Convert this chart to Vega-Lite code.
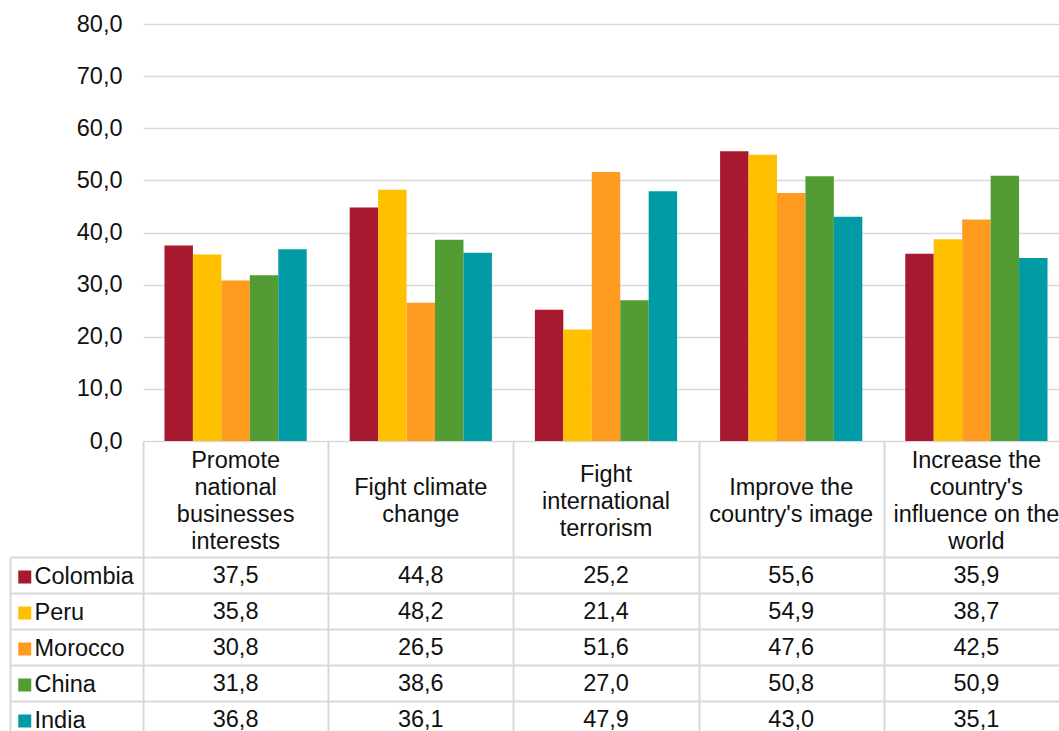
{
  "$schema": "https://vega.github.io/schema/vega-lite/v6.json",
  "padding": {"left": 9, "top": 12, "right": 0, "bottom": 0},
  "spacing": 0,
  "bounds": "flush",
  "datasets": {
    "scores": [
      {"category": "Promote national businesses interests", "country": "Colombia", "value": 37.5},
      {"category": "Fight climate change", "country": "Colombia", "value": 44.8},
      {"category": "Fight international terrorism", "country": "Colombia", "value": 25.2},
      {"category": "Improve the country's image", "country": "Colombia", "value": 55.6},
      {"category": "Increase the country's influence on the world", "country": "Colombia", "value": 35.9},
      {"category": "Promote national businesses interests", "country": "Peru", "value": 35.8},
      {"category": "Fight climate change", "country": "Peru", "value": 48.2},
      {"category": "Fight international terrorism", "country": "Peru", "value": 21.4},
      {"category": "Improve the country's image", "country": "Peru", "value": 54.9},
      {"category": "Increase the country's influence on the world", "country": "Peru", "value": 38.7},
      {"category": "Promote national businesses interests", "country": "Morocco", "value": 30.8},
      {"category": "Fight climate change", "country": "Morocco", "value": 26.5},
      {"category": "Fight international terrorism", "country": "Morocco", "value": 51.6},
      {"category": "Improve the country's image", "country": "Morocco", "value": 47.6},
      {"category": "Increase the country's influence on the world", "country": "Morocco", "value": 42.5},
      {"category": "Promote national businesses interests", "country": "China", "value": 31.8},
      {"category": "Fight climate change", "country": "China", "value": 38.6},
      {"category": "Fight international terrorism", "country": "China", "value": 27.0},
      {"category": "Improve the country's image", "country": "China", "value": 50.8},
      {"category": "Increase the country's influence on the world", "country": "China", "value": 50.9},
      {"category": "Promote national businesses interests", "country": "India", "value": 36.8},
      {"category": "Fight climate change", "country": "India", "value": 36.1},
      {"category": "Fight international terrorism", "country": "India", "value": 47.9},
      {"category": "Improve the country's image", "country": "India", "value": 43.0},
      {"category": "Increase the country's influence on the world", "country": "India", "value": 35.1}
    ],
    "headers": [
      {"category": "Promote national businesses interests", "lines": ["Promote", "national", "businesses", "interests"]},
      {"category": "Fight climate change", "lines": ["Fight climate", "change"]},
      {"category": "Fight international terrorism", "lines": ["Fight", "international", "terrorism"]},
      {"category": "Improve the country's image", "lines": ["Improve the", "country's image"]},
      {"category": "Increase the country's influence on the world", "lines": ["Increase the", "country's", "influence on the", "world"]}
    ]
  },
  "vconcat": [
    {
      "width": 926,
      "height": 417,
      "data": {"name": "scores"},
      "mark": {"type": "bar"},
      "encoding": {
        "x": {
          "field": "category",
          "type": "nominal",
          "sort": ["Promote national businesses interests", "Fight climate change", "Fight international terrorism", "Improve the country's image", "Increase the country's influence on the world"],
          "scale": {"paddingInner": 0.232, "paddingOuter": 0.116},
          "axis": null
        },
        "xOffset": {
          "field": "country",
          "type": "nominal",
          "sort": ["Colombia", "Peru", "Morocco", "China", "India"],
          "scale": {"paddingInner": 0, "paddingOuter": 0}
        },
        "y": {
          "field": "value",
          "type": "quantitative",
          "scale": {"domain": [0, 80], "nice": false},
          "axis": {
            "title": null,
            "values": [0, 10, 20, 30, 40, 50, 60, 70, 80],
            "format": ".1f",
            "domain": false,
            "ticks": false,
            "tickSize": 0,
            "labelPadding": 21,
            "labelFontSize": 23.5,
            "labelColor": "#111111",
            "grid": true,
            "gridColor": "#d9d9d9",
            "gridWidth": 1.5
          }
        },
        "color": {
          "field": "country",
          "type": "nominal",
          "sort": ["Colombia", "Peru", "Morocco", "China", "India"],
          "scale": {
            "domain": ["Colombia", "Peru", "Morocco", "China", "India"],
            "range": ["#A6192E", "#FFC000", "#FF9C1F", "#529C33", "#009BA4"]
          },
          "legend": {
            "title": null,
            "orient": "none",
            "legendX": -130,
            "legendY": 535,
            "padding": 0,
            "symbolType": "square",
            "symbolSize": 169,
            "symbolStrokeWidth": 0,
            "labelFontSize": 23.5,
            "labelColor": "#111111",
            "labelOffset": -2,
            "clipHeight": 36,
            "rowPadding": 0
          }
        }
      }
    },
    {
      "width": 926,
      "height": 116,
      "data": {"name": "headers"},
      "mark": {"type": "text", "fontSize": 23.5, "lineHeight": 27, "align": "center", "baseline": "middle", "color": "#111111", "dy": {"expr": "2.5 - 13.5 * (length(datum.lines) - 1)"}},
      "encoding": {
        "x": {
          "field": "category",
          "type": "nominal",
          "sort": ["Promote national businesses interests", "Fight climate change", "Fight international terrorism", "Improve the country's image", "Increase the country's influence on the world"],
          "scale": {"paddingInner": 0, "paddingOuter": 0},
          "axis": {
            "title": null,
            "labels": false,
            "ticks": false,
            "domain": false,
            "grid": true,
            "tickBand": "extent",
            "gridColor": "#d9d9d9",
            "gridWidth": 2
          }
        },
        "text": {"field": "lines"}
      }
    },
    {
      "width": 926,
      "height": 180,
      "data": {"name": "scores"},
      "mark": {"type": "text", "fontSize": 23.5, "align": "center", "baseline": "middle", "color": "#111111", "dy": 1},
      "encoding": {
        "x": {
          "field": "category",
          "type": "nominal",
          "sort": ["Promote national businesses interests", "Fight climate change", "Fight international terrorism", "Improve the country's image", "Increase the country's influence on the world"],
          "scale": {"paddingInner": 0, "paddingOuter": 0},
          "axis": {
            "title": null,
            "labels": false,
            "ticks": false,
            "domain": false,
            "grid": true,
            "tickBand": "extent",
            "gridColor": "#d9d9d9",
            "gridWidth": 2
          }
        },
        "y": {
          "field": "country",
          "type": "nominal",
          "sort": ["Colombia", "Peru", "Morocco", "China", "India"],
          "scale": {"paddingInner": 0, "paddingOuter": 0},
          "axis": {
            "title": null,
            "labels": false,
            "offset": 133,
            "domain": true,
            "domainColor": "#d9d9d9",
            "domainWidth": 2,
            "ticks": true,
            "tickSize": -133,
            "tickColor": "#d9d9d9",
            "tickWidth": 2,
            "tickBand": "extent",
            "grid": true,
            "gridColor": "#d9d9d9",
            "gridWidth": 2
          }
        },
        "text": {"field": "value", "type": "quantitative", "format": ".1f"}
      }
    }
  ],
  "config": {
    "font": "Liberation Sans",
    "view": {"stroke": null},
    "locale": {"number": {"decimal": ",", "thousands": ".", "grouping": [3], "currency": ["", " €"]}}
  }
}
